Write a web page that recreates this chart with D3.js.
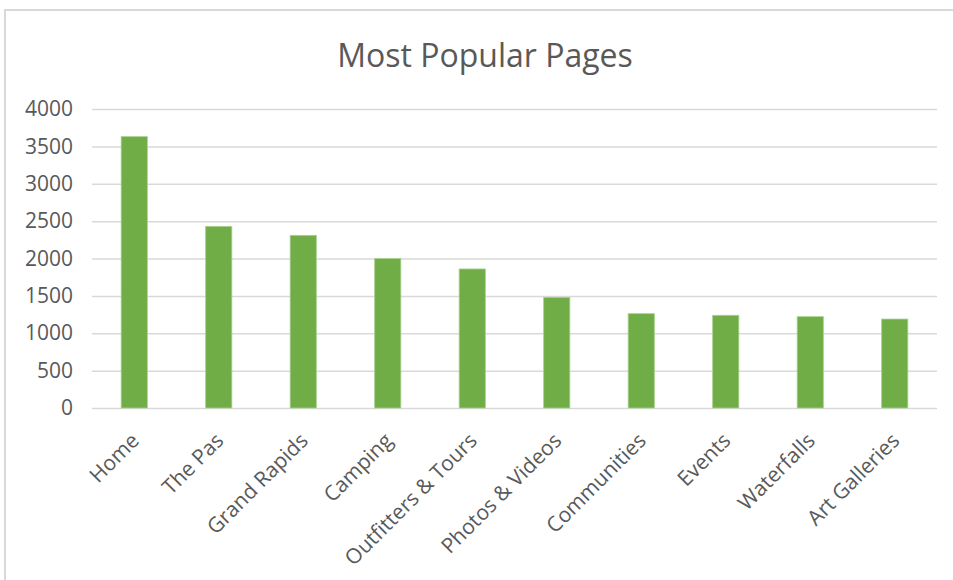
<!DOCTYPE html>
<html>
<head>
<meta charset="utf-8">
<script src="https://cdn.jsdelivr.net/npm/d3@7"></script>
<style type="text/css">
	body{
		margin: 0;
		background: #fff;
	}
	.chart text{
		font-family: "Open Sans", "DejaVu Sans", sans-serif;
		fill: #595959;
	}
	.grid line{
		stroke: #d9d9d9;
		stroke-width: 1.5;
	}
	.grid .domain{
		display: none;
	}
</style>
</head>
<body>
<div id="chart"></div>
<script type="text/javascript">
	// page names and view counts
	const pages = ['Home','The Pas','Grand Rapids','Camping','Outfitters & Tours',
		'Photos & Videos','Communities','Events','Waterfalls','Art Galleries'];
	const views = [3630, 2430, 2310, 2000, 1860, 1480, 1262, 1240, 1222, 1190];
	const yTicks = [0, 500, 1000, 1500, 2000, 2500, 3000, 3500, 4000];
	const title = 'Most Popular Pages';

	const W = 953, H = 580;
	const margin = {top: 109, right: 16, bottom: 172, left: 92};
	const width = W - margin.left - margin.right,
		height = H - margin.top - margin.bottom;

	let svg = d3.select('#chart').append('svg')
		.attr('class', 'chart')
		.attr('width', W)
		.attr('height', H);

	// outer chart frame (only top and left edges fall inside the picture)
	svg.append('rect')
		.attr('x', 5).attr('y', 10)
		.attr('width', W + 10).attr('height', H + 10)
		.attr('fill', 'none')
		.attr('stroke', '#d9d9d9')
		.attr('stroke-width', 2);

	svg.append('text')
		.attr('x', 485)
		.attr('y', 67)
		.attr('text-anchor', 'middle')
		.style('font-size', '32px')
		.text(title);

	let g = svg.append('g').attr('transform', `translate(${margin.left},${margin.top})`);

	let x = d3.scaleBand().domain(pages).range([0, width]).paddingInner(0.69).paddingOuter(0.345);
	let y = d3.scaleLinear().domain([0, 4000]).range([height, 0]);

	// gridlines
	g.append('g')
		.attr('class', 'grid')
		.call(d3.axisLeft(y).tickValues(yTicks).tickSize(-width).tickFormat(''));

	// y labels
	let ya = g.append('g')
		.call(d3.axisLeft(y).tickValues(yTicks).tickSize(0).tickPadding(19).tickFormat(d3.format('d')));
	ya.select('.domain').remove();
	ya.selectAll('text')
		.style('font-size', '21px')
		.attr('font-family', null);

	g.selectAll('.bar')
		.data(views)
		.enter().append('rect')
		.attr('class', 'bar')
		.attr('x', (d, i) => x(pages[i]))
		.attr('y', d => y(d))
		.attr('width', x.bandwidth())
		.attr('height', d => height - y(d))
		.attr('fill', '#70ad47')
		.attr('stroke', '#a9d18e')
		.attr('stroke-width', 0.8);

	// x labels, rotated
	let xa = g.append('g')
		.attr('transform', `translate(0,${height})`)
		.call(d3.axisBottom(x).tickSize(0).tickPadding(0));
	xa.select('.domain').remove();
	xa.selectAll('text')
		.style('font-size', '21px')
		.attr('font-family', null)
		.attr('text-anchor', 'end')
		.attr('dy', null)
		.attr('y', 0)
		.attr('transform', 'translate(6,34) rotate(-45)');
</script>
</body>
</html>
